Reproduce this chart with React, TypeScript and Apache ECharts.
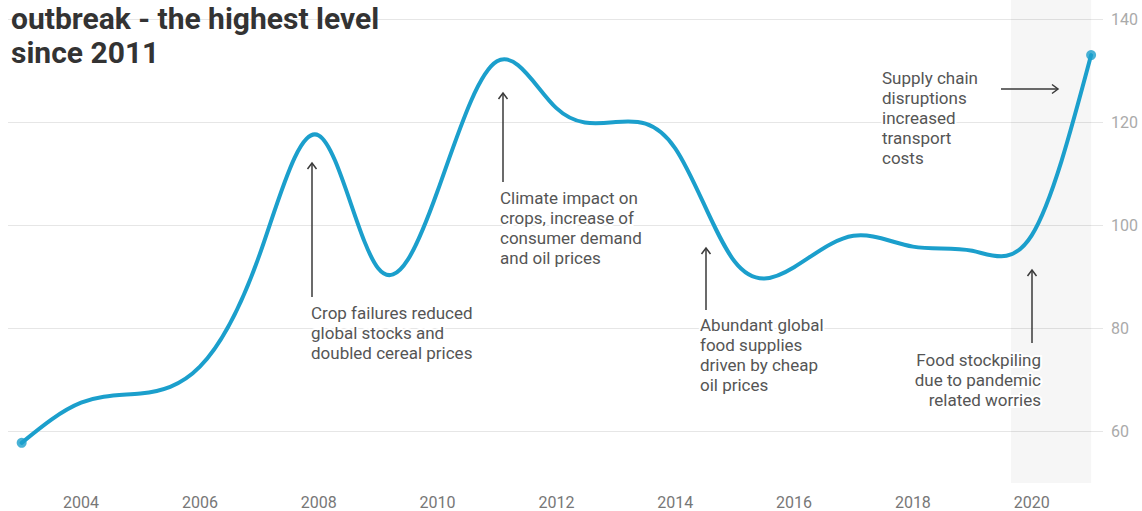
import React, { useEffect, useRef } from "react";
import * as echarts from "echarts";

const years = [2003, 2004, 2005, 2006, 2007, 2008, 2009, 2010, 2011, 2012, 2013, 2014, 2015, 2016, 2017, 2018, 2019, 2020, 2021];
const foodPriceIndex = [57.8, 65.6, 67.4, 72.6, 94.2, 117.5, 91.7, 106.7, 131.9, 122.8, 120.1, 115.0, 93.0, 91.9, 98.0, 95.9, 95.1, 98.1, 133.1];
const xTickLabels = [2004, 2006, 2008, 2010, 2012, 2014, 2016, 2018, 2020];
const yTickLabels = [60, 80, 100, 120, 140];
const shadedYears = [2019.65, 2021];

const titleLines = ["outbreak - the highest level", "since 2011"];
const notes = [
  { text: "Crop failures reduced\nglobal stocks and\ndoubled cereal prices", x: 311, y: 303, align: "left" },
  { text: "Climate impact on\ncrops, increase of\nconsumer demand\nand oil prices", x: 500, y: 188, align: "left" },
  { text: "Abundant global\nfood supplies\ndriven by cheap\noil prices", x: 700, y: 315, align: "left" },
  { text: "Food stockpiling\ndue to pandemic\nrelated worries", x: 1041, y: 350, align: "right" },
  { text: "Supply chain\ndisruptions\nincreased\ntransport\ncosts", x: 882, y: 68, align: "left" },
];
const upArrows = [
  { x: 312, top: 163, bottom: 297 },
  { x: 503, top: 93, bottom: 182 },
  { x: 706, top: 248, bottom: 310 },
  { x: 1032, top: 270, bottom: 343 },
];
const rightArrow = { y: 89, left: 1001, right: 1058 };

const FONT = "Roboto, 'Noto Sans', sans-serif";
const LINE_COLOR = "#1b9fcc";

// natural cubic spline through pixel points -> SVG path data
function naturalSplinePath(pts: number[][]): string {
  const n = pts.length;
  if (n < 2) return "";
  const xs = pts.map((p) => p[0]);
  const ys = pts.map((p) => p[1]);
  const h: number[] = [];
  for (let i = 0; i < n - 1; i++) h.push(xs[i + 1] - xs[i]);
  const M = new Array(n).fill(0);
  if (n > 2) {
    const a: number[] = [], b: number[] = [], c: number[] = [], d: number[] = [];
    for (let i = 1; i < n - 1; i++) {
      a.push(h[i - 1]);
      b.push(2 * (h[i - 1] + h[i]));
      c.push(h[i]);
      d.push(6 * ((ys[i + 1] - ys[i]) / h[i] - (ys[i] - ys[i - 1]) / h[i - 1]));
    }
    const m = b.length;
    for (let i = 1; i < m; i++) {
      const w = a[i] / b[i - 1];
      b[i] -= w * c[i - 1];
      d[i] -= w * d[i - 1];
    }
    const sol = new Array(m).fill(0);
    sol[m - 1] = d[m - 1] / b[m - 1];
    for (let i = m - 2; i >= 0; i--) sol[i] = (d[i] - c[i] * sol[i + 1]) / b[i];
    for (let i = 0; i < m; i++) M[i + 1] = sol[i];
  }
  let path = `M${xs[0]},${ys[0]}`;
  for (let i = 0; i < n - 1; i++) {
    const hi = h[i];
    const slope = (ys[i + 1] - ys[i]) / hi;
    const d0 = slope - (hi * (2 * M[i] + M[i + 1])) / 6;
    const d1 = slope + (hi * (M[i] + 2 * M[i + 1])) / 6;
    const c1x = xs[i] + hi / 3, c1y = ys[i] + (d0 * hi) / 3;
    const c2x = xs[i + 1] - hi / 3, c2y = ys[i + 1] - (d1 * hi) / 3;
    path += ` C${c1x},${c1y} ${c2x},${c2y} ${xs[i + 1]},${ys[i + 1]}`;
  }
  return path;
}

export default function App() {
  const ref = useRef<HTMLDivElement>(null);
  useEffect(() => {
    if (!ref.current) return;
    const chart = echarts.init(ref.current, null, { renderer: "svg" });
    const last = years.length - 1;
    const seriesData = years.map((yr, i) => [yr, foodPriceIndex[i]]);
    const endPoints = [seriesData[0], seriesData[last]];

    const graphics: any[] = [];
    graphics.push({
      type: "text",
      x: 11,
      y: 1,
      z: 100,
      style: {
        text: titleLines.join("\n"),
        font: `bold 30px ${FONT}`,
        lineHeight: 34,
        fill: "#333333",
        textAlign: "left",
        textVerticalAlign: "top",
      },
    });
    notes.forEach((n) => {
      graphics.push({
        type: "text",
        x: n.x,
        y: n.y,
        z: 100,
        style: {
          text: n.text,
          font: `17px ${FONT}`,
          lineHeight: 20,
          fill: "#555555",
          stroke: "#ffffff",
          lineWidth: 4,
          textAlign: n.align,
          textVerticalAlign: "top",
        },
      });
    });
    upArrows.forEach((a) => {
      graphics.push({
        type: "line",
        z: 100,
        shape: { x1: a.x, y1: a.top, x2: a.x, y2: a.bottom },
        style: { stroke: "#3a3a3a", lineWidth: 1.5 },
      });
      graphics.push({
        type: "polyline",
        z: 100,
        shape: { points: [[a.x - 4.5, a.top + 6], [a.x, a.top], [a.x + 4.5, a.top + 6]] },
        style: { stroke: "#3a3a3a", lineWidth: 1.5, fill: "none" },
      });
    });
    graphics.push({
      type: "line",
      z: 100,
      shape: { x1: rightArrow.left, y1: rightArrow.y, x2: rightArrow.right, y2: rightArrow.y },
      style: { stroke: "#3a3a3a", lineWidth: 1.5 },
    });
    graphics.push({
      type: "polyline",
      z: 100,
      shape: {
        points: [
          [rightArrow.right - 6, rightArrow.y - 4.5],
          [rightArrow.right, rightArrow.y],
          [rightArrow.right - 6, rightArrow.y + 4.5],
        ],
      },
      style: { stroke: "#3a3a3a", lineWidth: 1.5, fill: "none" },
    });

    chart.setOption({
      animation: false,
      grid: { left: 8, right: 39, top: 0, bottom: 28, containLabel: false },
      xAxis: {
        type: "value",
        min: 2002.77,
        max: 2021.2,
        axisLine: { show: false },
        axisTick: { show: false, customValues: xTickLabels },
        splitLine: { show: false },
        axisLabel: {
          customValues: xTickLabels,
          formatter: (v: number) => String(v),
          color: "#777777",
          fontSize: 16,
          fontFamily: FONT,
          margin: 11,
        },
      },
      yAxis: {
        type: "value",
        position: "right",
        min: 50,
        max: 143.8,
        axisLine: { show: false },
        axisTick: { show: false, customValues: yTickLabels },
        splitLine: { show: true, lineStyle: { color: "#e6e6e6", width: 1 } },
        axisLabel: {
          customValues: yTickLabels,
          color: "#aaaaaa",
          fontSize: 16,
          fontFamily: FONT,
          margin: 8,
        },
      },
      series: [
        {
          type: "custom",
          data: seriesData,
          z: 3,
          renderItem: (params: any, api: any) => {
            if (params.dataIndex !== 0) return null;
            const pts = seriesData.map((d) => api.coord(d));
            return {
              type: "path",
              shape: { pathData: naturalSplinePath(pts) },
              style: { stroke: LINE_COLOR, lineWidth: 4, fill: "none", lineCap: "round", lineJoin: "round" },
            };
          },
          markArea: {
            silent: true,
            itemStyle: { color: "rgba(0,0,0,0.035)" },
            data: [[{ xAxis: shadedYears[0] }, { xAxis: shadedYears[1] }]],
          },
        },
        {
          type: "scatter",
          data: endPoints,
          z: 4,
          symbol: "circle",
          symbolSize: 10,
          itemStyle: { color: LINE_COLOR },
        },
      ],
      graphic: graphics,
    });
    return () => chart.dispose();
  }, []);
  return <div ref={ref} style={{ width: 1142, height: 511, position: "absolute", left: 0, top: 0 }} />;
}
